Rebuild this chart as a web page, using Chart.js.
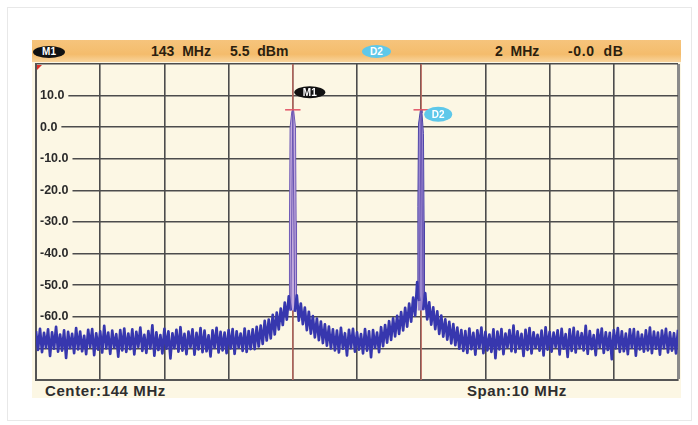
<!DOCTYPE html>
<html>
<head>
<meta charset="utf-8">
<script src="https://cdn.jsdelivr.net/npm/chart.js@4/dist/chart.umd.min.js"></script>
<style>
  html, body { margin: 0; padding: 0; background: #ffffff; }
  body { width: 698px; height: 425px; position: relative; overflow: hidden; font-family: "Liberation Sans", Arial, sans-serif; }
  #frame { position: absolute; left: 7px; top: 7px; width: 683px; height: 412px; border: 1px solid #e8e8e8; }
  #panel { position: absolute; left: 32px; top: 40px; width: 649px; height: 358px; background: #fcf7e4; }
  #header { position: absolute; left: 32px; top: 40px; width: 649px; height: 22px;
            background: linear-gradient(#f6c47c, #f4bc6c 65%, #f8d49c); }
  .ht { position: absolute; top: 43px; font-weight: bold; font-size: 14px; color: #2c1f0f; white-space: pre; line-height: 16px; }
  .badge { position: absolute; border-radius: 50%; color: #fff; font-weight: bold; font-size: 10px; text-align: center; }
  .ft { position: absolute; top: 382px; font-weight: bold; font-size: 15px; letter-spacing: 0.6px; color: #2e2e2e; white-space: pre; line-height: 17px; }
  canvas { position: absolute; left: 0; top: 0; }
</style>
</head>
<body>
<div id="frame"></div>
<div id="panel"></div>
<div id="header"></div>
<div class="badge" style="left:33px;top:46px;width:32px;height:12px;line-height:12px;background:#111;">M1</div>
<div class="ht" style="left:151px;">143  MHz</div>
<div class="ht" style="left:230px;">5.5  dBm</div>
<div class="badge" style="left:362px;top:45px;width:29px;height:13px;line-height:13px;background:#5fc8ea;">D2</div>
<div class="ht" style="left:495px;">2  MHz</div>
<div class="ht" style="left:568px;letter-spacing:0.6px;">-0.0  dB</div>
<div class="ft" id="centerLbl" style="left:45px;"></div>
<div class="ft" id="spanLbl" style="left:467px;"></div>
<canvas id="c" width="698" height="425"></canvas>
<script>
// ---- instrument settings ----
const CENTER_MHZ = 144;
const SPAN_MHZ = 10;

// ---- y tick values (dBm) ----
const Y_TICK_VALUES = [20, 10, 0, -10, -20, -30, -40, -50, -60, -70, -80];
const Y_LABELLED = [10, 0, -10, -20, -30, -40, -50, -60];

// ---- markers ----
const MARKER_NAMES = ['M1', 'D2'];
const MARKER_FREQS = [143, 145];
const MARKER_LEVELS = [5.5, 5.5];

// ---- spike bodies ----
const M1_SPIKE_FREQS = [142.942, 142.948, 142.958, 142.985, 143.0, 143.015, 143.042, 143.052, 143.058];
const M1_SPIKE_LEVELS = [-56, -30, 0, 5.0, 5.5, 5.0, 0, -30, -56];
const D2_SPIKE_FREQS = [144.942, 144.948, 144.958, 144.985, 145.0, 145.012, 145.035, 145.045, 145.05];
const D2_SPIKE_LEVELS = [-52, -25, 1, 5.0, 5.5, 4.5, -2, -30, -56];

// ---- sweep trace, 321 points across the span (dBm) ----
const LEVEL_DBM = [
  -64.5,-70.5,-63.8,-71.2,-65.1,-69.8,-64.0,-72.4,-64.9,-70.1,-63.2,-71.0,-65.6,-70.7,-64.3,-73.0,
  -64.8,-69.9,-65.4,-71.5,-63.6,-70.3,-64.7,-70.9,-66.0,-71.8,-64.1,-69.6,-63.9,-72.1,-65.2,-70.4,
  -64.6,-71.3,-62.9,-70.0,-65.0,-71.7,-64.4,-69.7,-65.5,-72.6,-64.2,-70.6,-63.7,-71.1,-65.3,-70.2,
  -64.0,-71.9,-64.8,-69.5,-63.4,-70.8,-65.7,-71.4,-64.5,-70.0,-62.7,-72.3,-64.9,-70.5,-65.8,-71.6,
  -63.8,-70.1,-64.6,-73.2,-65.2,-69.9,-64.1,-71.0,-63.3,-70.7,-65.4,-71.8,-64.7,-69.6,-64.0,-72.0,
  -65.1,-70.3,-63.6,-71.2,-64.4,-70.9,-65.9,-72.5,-64.3,-69.8,-63.5,-71.3,-64.8,-70.6,-65.0,-71.5,
  -64.2,-70.0,-63.9,-71.7,-64.6,-69.7,-65.3,-70.8,-63.7,-71.1,-64.5,-70.2,-64.0,
  // M1 skirt
  -70.2,-63.2,-69.4,-62.8,-68.6,-61.3,-67.5,-60.9,-66.8,-59.4,-65.6,-58.7,-64.0,-57.4,-62.6,-55.5,-60.9,-53.5,-58.0,
  5.5,
  -58.4,-53.2,-61.2,-55.8,-62.3,-57.1,-64.2,-58.4,-65.3,-59.8,-66.5,-60.6,-67.4,-61.5,-68.3,-62.4,-69.1,-63.1,-70.0,-64.0,
  // floor between carriers
  -70.6,-64.4,-71.3,-63.5,-70.1,-65.2,-72.2,-64.1,-69.9,-63.8,-71.0,-64.9,-70.4,-65.5,-71.6,-63.9,-70.7,-64.6,-72.8,-64.2,-69.8,-65.0,-71.2,
  // D2 skirt
  -63.3,-69.3,-62.6,-68.2,-61.4,-67.3,-60.5,-66.2,-59.7,-65.4,-58.5,-64.3,-57.2,-63.1,-55.8,-61.5,-53.9,-59.6,-49.0,-55.0,
  5.5,
  -57.8,-52.5,-60.8,-55.4,-62.5,-57.0,-63.9,-58.3,-65.4,-59.6,-66.3,-60.8,-67.2,-61.6,-68.4,-62.3,-69.0,-63.4,-70.1,-64.2,
  // floor
  -70.8,-64.5,-71.4,-63.7,-70.2,-65.1,-72.0,-64.3,-69.9,-63.4,-71.5,-64.8,-70.6,-65.6,-71.1,-64.0,
  -73.1,-64.7,-70.3,-63.9,-71.8,-65.3,-69.7,-64.2,-70.9,-62.8,-71.2,-64.6,-70.0,-65.4,-72.4,-64.1,
  -70.5,-63.6,-71.6,-64.9,-69.8,-65.7,-70.7,-64.4,-72.2,-63.3,-70.4,-64.8,-71.0,-65.0,-69.6,-64.3,
  -71.9,-63.8,-70.1,-65.5,-72.7,-64.0,-70.8,-63.5,-71.3,-64.7,-69.9,-65.2,-70.6,-62.9,-71.7,-64.5,
  -70.2,-65.8,-72.1,-64.1,-69.7,-63.7,-71.4,-64.9,-70.5,-65.1,-73.4,-64.2,-70.0,-63.6,-71.1,-64.6,
  -70.9,-65.3,-71.8,-64.0,-69.8,-63.9,-72.3,-64.8,-70.3,-65.6,-71.0,-64.3,-70.6,-63.4,-71.5,-64.7,
  -70.1,-65.0,-72.0,-64.4,-69.9,-63.8,-71.3,-64.9,-70.7,-65.2,-71.6,-64.1
];

// sweep frequency grid defined by centre and span
const F_START = CENTER_MHZ - SPAN_MHZ / 2;
const F_STOP = CENTER_MHZ + SPAN_MHZ / 2;
const FREQ_MHZ = LEVEL_DBM.map((_, i) => F_START + i * SPAN_MHZ / (LEVEL_DBM.length - 1));

document.getElementById('centerLbl').textContent = 'Center:' + CENTER_MHZ + ' MHz';
document.getElementById('spanLbl').textContent = 'Span:' + SPAN_MHZ + ' MHz';

const pts = (xs, ys) => xs.map((x, i) => ({ x, y: ys[i] }));
const isSpikeSeg = (c) => Math.max(c.p0.parsed.y, c.p1.parsed.y) > -45;

const datasets = [];
// trace
datasets.push({
  label: 'trace', data: pts(FREQ_MHZ, LEVEL_DBM),
  borderColor: '#3737ae', borderWidth: 2.7, pointRadius: 0, tension: 0, order: 2,
  borderJoinStyle: 'round',
  segment: {
    borderColor: (c) => (isSpikeSeg(c) ? '#6a56b2' : undefined),
    borderWidth: (c) => (isSpikeSeg(c) ? 1 : undefined)
  }
});
// spike bodies
datasets.push({
  label: 'M1 body', data: pts(M1_SPIKE_FREQS, M1_SPIKE_LEVELS),
  borderColor: '#6f5ab6', borderWidth: 1, backgroundColor: '#c4abdd', fill: { value: -58 },
  pointRadius: 0, order: 4
});
datasets.push({
  label: 'D2 body', data: pts(D2_SPIKE_FREQS, D2_SPIKE_LEVELS),
  borderColor: '#4d44a8', borderWidth: 1, backgroundColor: '#9886cf', fill: { value: -58 },
  pointRadius: 0, order: 4
});
// marker lines and peak ticks
MARKER_FREQS.forEach((f, k) => {
  datasets.push({
    label: MARKER_NAMES[k] + ' line',
    data: [{ x: f, y: Y_TICK_VALUES[Y_TICK_VALUES.length - 1] }, { x: f, y: Y_TICK_VALUES[0] }],
    borderColor: 'rgba(214,110,96,0.75)', borderWidth: 1.5, pointRadius: 0, order: 5
  });
  datasets.push({
    label: MARKER_NAMES[k] + ' tick',
    data: [{ x: f - 0.12, y: MARKER_LEVELS[k] }, { x: f + 0.12, y: MARKER_LEVELS[k] }],
    borderColor: '#e25568', borderWidth: 1.5, pointRadius: 0, order: 1
  });
});

const BADGE_STYLE = {
  M1: { fill: '#111111', dx: 17, dy: -17.5, w: 31, h: 12 },
  D2: { fill: '#5ec8ea', dx: 17, dy: 4.5, w: 28, h: 15 }
};

const badgePlugin = {
  id: 'badges',
  afterDatasetsDraw(chart) {
    const { ctx, scales: { x, y }, chartArea: a } = chart;
    ctx.save();
    // reference-level corner mark
    ctx.fillStyle = '#e0302a';
    ctx.beginPath();
    ctx.moveTo(a.left + 1, a.top + 1);
    ctx.lineTo(a.left + 6, a.top + 1);
    ctx.lineTo(a.left + 1, a.top + 6);
    ctx.closePath();
    ctx.fill();
    MARKER_NAMES.forEach((name, k) => {
      const s = BADGE_STYLE[name];
      const cx = x.getPixelForValue(MARKER_FREQS[k]) + s.dx;
      const cy = y.getPixelForValue(MARKER_LEVELS[k]) + s.dy;
      ctx.fillStyle = s.fill;
      ctx.beginPath();
      ctx.ellipse(cx, cy, s.w / 2, s.h / 2, 0, 0, Math.PI * 2);
      ctx.fill();
      ctx.fillStyle = '#ffffff';
      ctx.font = 'bold 10px "Liberation Sans", Arial, sans-serif';
      ctx.textAlign = 'center';
      ctx.textBaseline = 'middle';
      ctx.fillText(name, cx, cy + 0.5);
    });
    ctx.restore();
  }
};

new Chart(document.getElementById('c'), {
  type: 'line',
  data: { datasets },
  options: {
    responsive: false,
    animation: false,
    devicePixelRatio: 1,
    layout: { padding: { left: 36, top: 64, right: 20, bottom: 45 } },
    plugins: { legend: { display: false }, tooltip: { enabled: false } },
    scales: {
      x: {
        type: 'linear', min: F_START, max: F_STOP,
        ticks: { display: false, stepSize: 1 },
        grid: {
          drawTicks: false,
          color: (c) => (c.index === SPAN_MHZ ? '#8a8a8a' : '#4c4c4c'),
          lineWidth: (c) => (c.index === SPAN_MHZ ? 3 : 1.6)
        },
        border: { display: true, color: '#555555', width: 2 },
        afterFit: (s) => { s.height = 0; }
      },
      y: {
        min: Y_TICK_VALUES[Y_TICK_VALUES.length - 1], max: Y_TICK_VALUES[0],
        afterBuildTicks: (s) => { s.ticks = Y_TICK_VALUES.map(v => ({ value: v })); },
        ticks: {
          mirror: true, padding: 4,
          font: { family: '"Liberation Sans", Arial, sans-serif', size: 12.5, weight: 'bold' },
          color: '#2a2a2a',
          callback: (v) => (Y_LABELLED.includes(v) ? v.toFixed(1) : ''),
          showLabelBackdrop: (c) => Y_LABELLED.includes(c.tick.value),
          backdropColor: '#fcf7e4',
          backdropPadding: { left: 3, right: 4, top: 1, bottom: 1 }
        },
        grid: { drawTicks: false, color: '#4c4c4c', lineWidth: 1.6 },
        border: { display: true, color: '#555555', width: 2 },
        afterFit: (s) => { s.width = 0; }
      }
    }
  },
  plugins: [badgePlugin]
});
</script>
</body>
</html>
